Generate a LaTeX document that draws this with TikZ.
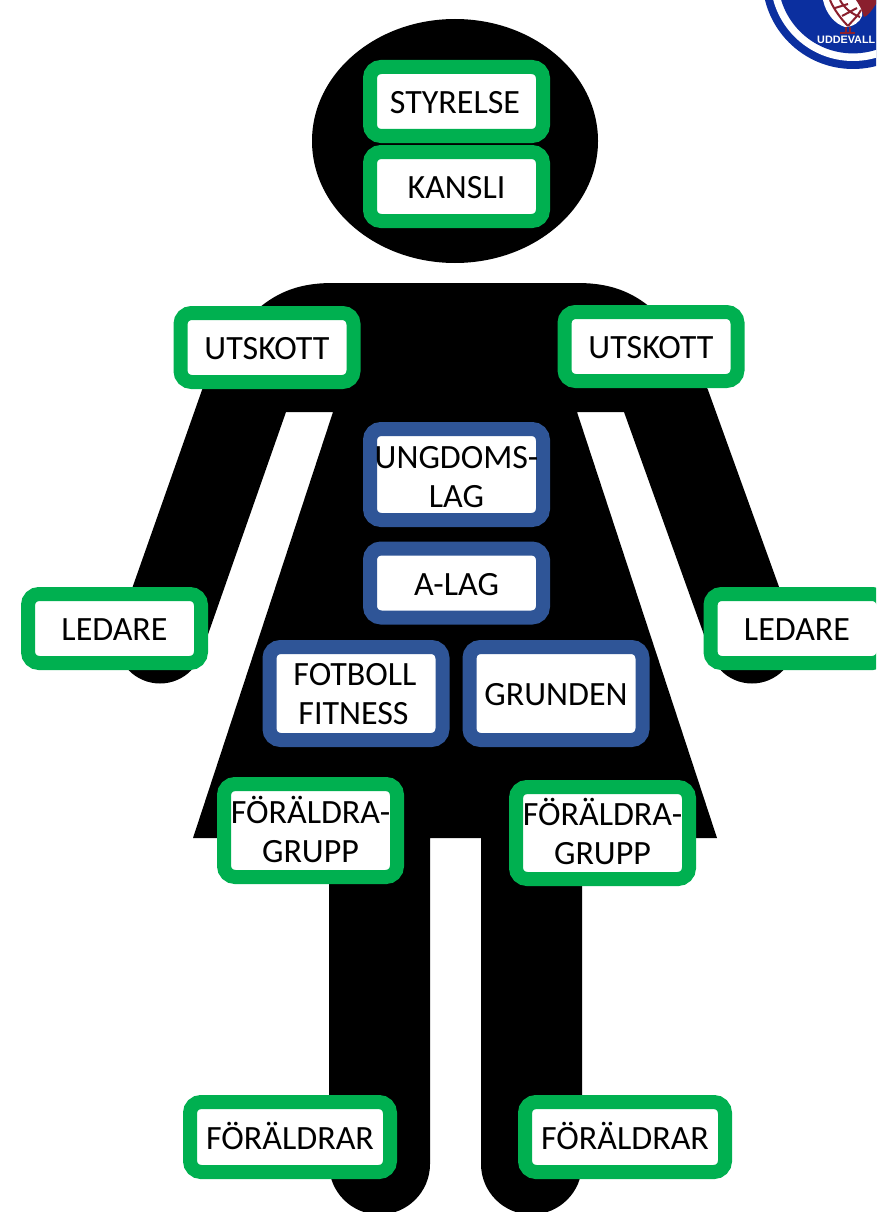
\documentclass[tikz,border=0pt]{standalone}
\usepackage{fontspec}
\setmainfont{Carlito}
\newfontfamily\logofont{Liberation Sans}
\definecolor{gr}{HTML}{00B050}
\definecolor{bl}{HTML}{2F5597}
\definecolor{logob}{HTML}{0B2F9F}
\definecolor{logor}{HTML}{8A1F2D}
\tikzset{
  box/.style={fill=white,line width=14pt,rounded corners=11pt,inner sep=0pt,align=center,
    minimum width=173pt,minimum height=69pt,text=black,font=\fontsize{34}{39}\selectfont},
  gbox/.style={box,draw=gr},
  bbox/.style={box,draw=bl},
  oneline/.style={text height=24pt,text depth=0pt}
}
\begin{document}
\begin{tikzpicture}[x=1pt,y=-1pt]
\useasboundingbox (0,0) rectangle (876,1212);
\clip (0,0) rectangle (876,1212);
% figure
\fill (455,141) ellipse [x radius=143, y radius=122];
\fill (333,283) -- (577,283)
  .. controls (625,283) and (665,300) .. (708,390)
  -- (793,625.6) -- (711,654.4) -- (624,412) -- (577,412)
  -- (717,838) -- (582,838) -- (582,1164) -- (481,1164) -- (481,838)
  -- (430,838) -- (430,1164) -- (329,1164) -- (329,838) -- (193,838)
  -- (333,412) -- (286,412) -- (201,654.4) -- (119,625.6) -- (202,390)
  .. controls (245,300) and (285,283) .. (333,283) -- cycle;
\fill (160,640) circle [radius=43.5];
\fill (752,640) circle [radius=43.5];
\fill (379.5,1164) circle [radius=50.5];
\fill (531.5,1164) circle [radius=50.5];
% logo
\fill[logob] (853,-21.6) circle [radius=90.6];
\fill[white] (853,-21.6) circle [radius=82.6];
\fill[logob] (853,-21.6) circle [radius=75];
\fill[white] (823,0) .. controls (826,14) and (835,24) .. (845,27)
  .. controls (853,27) and (860,22) .. (862,16) -- (862,0) -- cycle;
\draw[logor,line width=2pt] (830,0) .. controls (834,10) and (842,20) .. (848,26)
  (840,0) .. controls (844,8) and (852,14) .. (860,17)
  (848,26) .. controls (853,20) and (858,16) .. (861,10)
  (835,8) -- (848,4) (842,16) -- (857,8);
\draw[logor,line width=2pt] (846,27) -- (846,33) (850,27) -- (850,33) (840,33.5) -- (855,33.5);
\fill[logor] (856,0) -- (876,0) -- (876,4) .. controls (872,10) and (868,16) .. (864,17)
  .. controls (862,10) and (860,6) .. (856,0) -- cycle;
\node[text=white,font=\logofont\bfseries\fontsize{10.8}{11}\selectfont,anchor=west,inner sep=0pt] (logotext) at (817,39.5) {UDDEVALL};
% boxes
\node[gbox,oneline] (styrelse) at (456.5,101.5) {\hspace*{-3pt}STYRELSE};
\node[gbox,oneline] (kansli) at (456.5,186.5) {KANSLI};
\node[gbox,oneline] (utl) at (267,347.5) {UTSKOTT};
\node[gbox,oneline] (utr) at (651,346.5) {UTSKOTT};
\node[bbox,minimum height=91pt] (ungdom) at (456.5,474.5) {\rule{0pt}{27pt}UNGDOMS-\\LAG};
\node[bbox,oneline] (alag) at (456.5,583) {A-LAG};
\node[bbox,minimum height=93pt] (fitness) at (356,693.5) {\rule{0pt}{24pt}\hspace*{-2pt}FOTBOLL\\\hspace*{-5pt}FITNESS};
\node[bbox,oneline,minimum height=93pt] (grunden) at (556,693.5) {GRUNDEN};
\node[gbox,oneline] (ledl) at (114.5,628.5) {LEDARE};
\node[gbox,oneline] (ledr) at (797,628.5) {LEDARE};
\node[gbox,minimum height=93pt] (fgl) at (310.5,830.5) {FÖRÄLDRA-\\GRUPP\rule[-2pt]{0pt}{2pt}};
\node[gbox,minimum height=92pt] (fgr) at (602.5,833) {FÖRÄLDRA-\\GRUPP\rule[-4pt]{0pt}{4pt}};
\node[gbox,oneline,minimum width=200pt,minimum height=70pt] (fl) at (290,1137) {FÖRÄLDRAR};
\node[gbox,oneline,minimum width=200pt,minimum height=70pt] (fr) at (625,1137) {FÖRÄLDRAR};
\end{tikzpicture}
\end{document}
